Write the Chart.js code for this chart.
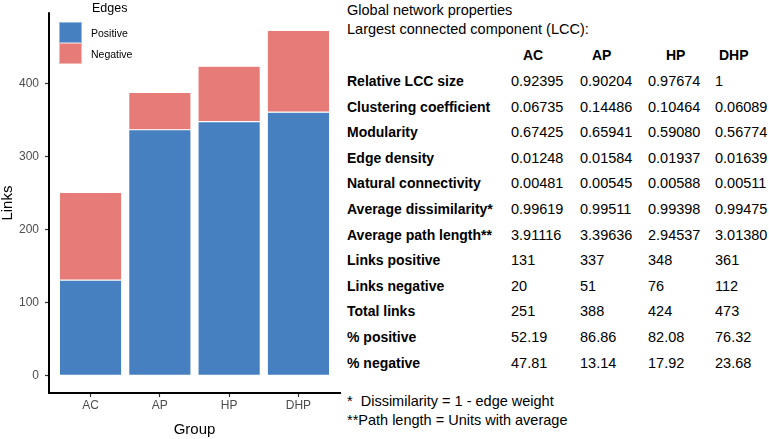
<!DOCTYPE html>
<html>
<head>
<meta charset="utf-8">
<script src="https://cdn.jsdelivr.net/npm/chart.js@4.4.1/dist/chart.umd.min.js"></script>
<style>
  body { margin: 0; background: #fff; font-family: "Liberation Sans", Arial, sans-serif; }
  #wrap { position: relative; width: 769px; height: 439px; overflow: hidden; }
  #plot { position: absolute; left: 0; top: 0; width: 342px; height: 439px; }
  .t { position: absolute; white-space: nowrap; line-height: 18px; font-size: 14.5px; color: #000; }
  .b { font-weight: bold; font-size: 14px; }
  #legend { position: absolute; left: 59px; top: 0; font-size: 10.5px; color: #000; }
  #legend .title { position: absolute; left: 33px; top: 0; font-size: 12.5px; line-height: 16px; }
  #legend .key { position: absolute; left: 0; width: 23px; height: 21px; box-shadow: inset 0 0 0 1px rgba(255,255,255,0.45); }
  #legend .lab { position: absolute; left: 32px; line-height: 14px; white-space: nowrap; }
</style>
</head>
<body>
<div id="wrap">
  <div id="plot"><canvas id="bars"></canvas></div>
  <div id="legend"></div>
  <div id="table"></div>
</div>
<script>
// bar chart data
var groups = ['AC', 'AP', 'HP', 'DHP'];
var linksPositive = [131, 337, 348, 361];
var linksNegative = [120, 51, 76, 112];
var yTicks = [0, 100, 200, 300, 400];

var positiveColor = '#4680c1';
var negativeColor = '#e67b78';

// table text
var titleLines = ['Global network properties', 'Largest connected component (LCC):'];
var rowLabels = ['Relative LCC size', 'Clustering coefficient', 'Modularity', 'Edge density',
  'Natural connectivity', 'Average dissimilarity*', 'Average path length**', 'Links positive',
  'Links negative', 'Total links', '% positive', '% negative'];
var relLccSize = ['0.92395', '0.90204', '0.97674', '1'];
var clustering = ['0.06735', '0.14486', '0.10464', '0.06089'];
var modularity = ['0.67425', '0.65941', '0.59080', '0.56774'];
var edgeDensity = ['0.01248', '0.01584', '0.01937', '0.01639'];
var naturalConn = ['0.00481', '0.00545', '0.00588', '0.00511'];
var avgDissim = ['0.99619', '0.99511', '0.99398', '0.99475'];
var avgPath = ['3.91116', '3.39636', '2.94537', '3.01380'];
var tabPositive = ['131', '337', '348', '361'];
var tabNegative = ['20', '51', '76', '112'];
var totalLinks = ['251', '388', '424', '473'];
var pctPositive = ['52.19', '86.86', '82.08', '76.32'];
var pctNegative = ['47.81', '13.14', '17.92', '23.68'];
var footnotes = ['*\u00a0 Dissimilarity = 1 - edge weight', '**Path length = Units with average'];

function toPoints(values) {
  return values.map(function (v, i) { return { x: i + 1, y: v }; });
}

function tickGrid() {
  return {
    display: true,
    offset: false,
    drawOnChartArea: false,
    drawTicks: true,
    tickLength: 4,
    tickColor: '#333',
    tickWidth: 1.2,
    color: '#333'
  };
}

// black L-shaped axis lines along the chart area
var axisLines = {
  id: 'axisLines',
  afterDraw: function (chart) {
    var a = chart.chartArea;
    var ctx = chart.ctx;
    var x0 = Math.round(a.left);
    var y0 = Math.round(a.bottom);
    ctx.save();
    ctx.strokeStyle = '#000';
    ctx.lineWidth = 2;
    ctx.lineCap = 'square';
    ctx.beginPath();
    ctx.moveTo(x0, a.top);
    ctx.lineTo(x0, y0);
    ctx.lineTo(a.right, y0);
    ctx.stroke();
    ctx.restore();
  }
};

new Chart(document.getElementById('bars'), {
  type: 'bar',
  data: {
    datasets: [
      { label: 'Positive', data: toPoints(linksPositive), backgroundColor: positiveColor },
      { label: 'Negative', data: toPoints(linksNegative), backgroundColor: negativeColor }
    ]
  },
  plugins: [axisLines],
  options: {
    responsive: true,
    maintainAspectRatio: false,
    animation: false,
    layout: { padding: { top: 0, right: 2, bottom: 0, left: 0 } },
    datasets: {
      bar: {
        categoryPercentage: 1,
        barPercentage: 0.9,
        borderWidth: 0.6,
        borderColor: 'rgba(255,255,255,0.4)',
        borderSkipped: false
      }
    },
    plugins: { legend: { display: false }, tooltip: { enabled: false } },
    scales: {
      x: {
        type: 'linear',
        offset: false,
        min: 0.4,
        max: 4.6,
        stacked: true,
        grid: tickGrid(),
        border: { display: false },
        afterBuildTicks: function (scale) {
          scale.ticks = groups.map(function (g, i) { return { value: i + 1 }; });
        },
        afterFit: function (scale) { scale.height = 46; },
        ticks: {
          padding: 1,
          maxRotation: 0,
          autoSkip: false,
          color: '#4d4d4d',
          font: { family: 'Liberation Sans', size: 12 },
          callback: function (value) { return groups[value - 1]; }
        },
        title: {
          display: true,
          text: 'Group',
          color: '#000',
          padding: 0,
          font: { family: 'Liberation Sans', size: 15 }
        }
      },
      y: {
        stacked: true,
        min: -23.65,
        max: 496.65,
        grid: tickGrid(),
        border: { display: false },
        afterBuildTicks: function (scale) {
          scale.ticks = yTicks.map(function (v) { return { value: v }; });
        },
        afterFit: function (scale) { scale.width = 49; },
        ticks: {
          padding: 6,
          color: '#4d4d4d',
          font: { family: 'Liberation Sans', size: 12 }
        },
        title: {
          display: true,
          text: 'Links',
          color: '#000',
          padding: 0,
          font: { family: 'Liberation Sans', size: 15, lineHeight: 1 }
        }
      }
    }
  }
});

// legend inside the plot
var legend = document.getElementById('legend');
legend.innerHTML =
  '<div class="title">Edges</div>' +
  '<div class="key" style="top:22px;background:' + positiveColor + '"></div>' +
  '<div class="lab" style="top:26px">Positive</div>' +
  '<div class="key" style="top:43px;background:' + negativeColor + '"></div>' +
  '<div class="lab" style="top:47px">Negative</div>';

// text table on the right
var table = document.getElementById('table');
var colLeft = [511, 580, 648, 715];
var headLeft = [523, 592, 666, 719];
var rows = [relLccSize, clustering, modularity, edgeDensity, naturalConn, avgDissim,
  avgPath, tabPositive, tabNegative, totalLinks, pctPositive, pctNegative];

function put(text, left, centerY, cls) {
  var d = document.createElement('div');
  d.className = 't' + (cls ? ' ' + cls : '');
  d.style.left = left + 'px';
  d.style.top = (centerY - 9) + 'px';
  d.textContent = text;
  table.appendChild(d);
}

put(titleLines[0], 347, 10);
put(titleLines[1], 347, 29);
groups.forEach(function (g, j) { put(g, headLeft[j], 55, 'b'); });
rows.forEach(function (vals, i) {
  var y = 81 + i * 25.6;
  put(rowLabels[i], 347, y, 'b');
  vals.forEach(function (v, j) { put(v, colLeft[j], y); });
});
put(footnotes[0], 347, 401);
put(footnotes[1], 347, 420);
</script>
</body>
</html>
